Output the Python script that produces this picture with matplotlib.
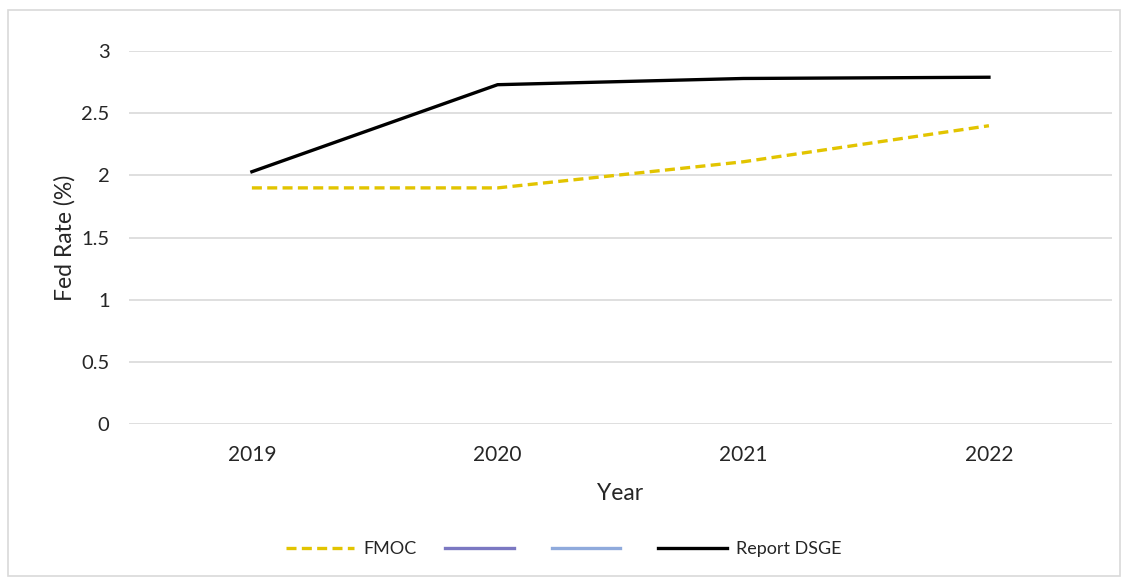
"""Fed rate: FMOC projection vs Report DSGE, 2019-2022."""

import matplotlib
matplotlib.use("Agg")
import matplotlib.pyplot as plt
from matplotlib.patches import Rectangle
import numpy as np

plt.rcParams.update({
    "font.family": ["Lato", "DejaVu Sans"],
    "font.size": 13,
})

# ---- data ----
years = ["2019", "2020", "2021", "2022"]
fmoc = [1.90, 1.90, 2.11, 2.40]
blank_a = [np.nan, np.nan, np.nan, np.nan]
blank_b = [np.nan, np.nan, np.nan, np.nan]
report_dsge = [2.03, 2.73, 2.78, 2.79]
y_ticks = [0, 0.5, 1, 1.5, 2, 2.5, 3]
y_tick_labels = ["0", "0.5", "1", "1.5", "2", "2.5", "3"]

TEXT = "#262626"
GRID = "#D9D9D9"

fig = plt.figure(figsize=(11.27, 5.81), dpi=100)
ax = fig.add_axes([0.1145, 0.27, 0.872, 0.642])

# outer chart border, Excel style
fig.patches.append(Rectangle((0.007, 0.008), 0.987, 0.975, transform=fig.transFigure,
                             fill=False, edgecolor=GRID, linewidth=1.2))

x = np.arange(len(years))
h1, = ax.plot(x, fmoc, color="#E2C400", linewidth=2.4, linestyle=(0, (3, 1.6)))
h2, = ax.plot(x, blank_a, color="#7B78C2", linewidth=2.4)
h3, = ax.plot(x, blank_b, color="#8FAADC", linewidth=2.4)
h4, = ax.plot(x, report_dsge, color="black", linewidth=2.4)

ax.set_xlim(-0.5, len(years) - 0.5)
ax.set_ylim(0, 3)
ax.set_yticks(y_ticks)
ax.set_yticklabels(y_tick_labels)
ax.set_xticks(x)
ax.set_xticklabels(years)
ax.tick_params(length=0, colors=TEXT)
ax.tick_params(axis="y", pad=14, labelsize=14.5)
ax.tick_params(axis="x", pad=15, labelsize=15)
ax.grid(axis="y", color=GRID, linewidth=1.2)
ax.set_axisbelow(True)
for s in ax.spines.values():
    s.set_visible(False)

ax.set_ylabel("Fed Rate (%)", fontsize=16.5, color=TEXT, labelpad=4)
ax.set_xlabel("Year", fontsize=16.5, color=TEXT, labelpad=13)

fig.legend([h1, h2, h3, h4], ["FMOC", "", "", "Report DSGE"],
           loc="center", bbox_to_anchor=(0.5, 0.055), ncol=4, frameon=False,
           handlelength=3.8, columnspacing=1.6, handletextpad=0.5, fontsize=13,
           labelcolor=TEXT)

fig.savefig("out.png", dpi=100)
